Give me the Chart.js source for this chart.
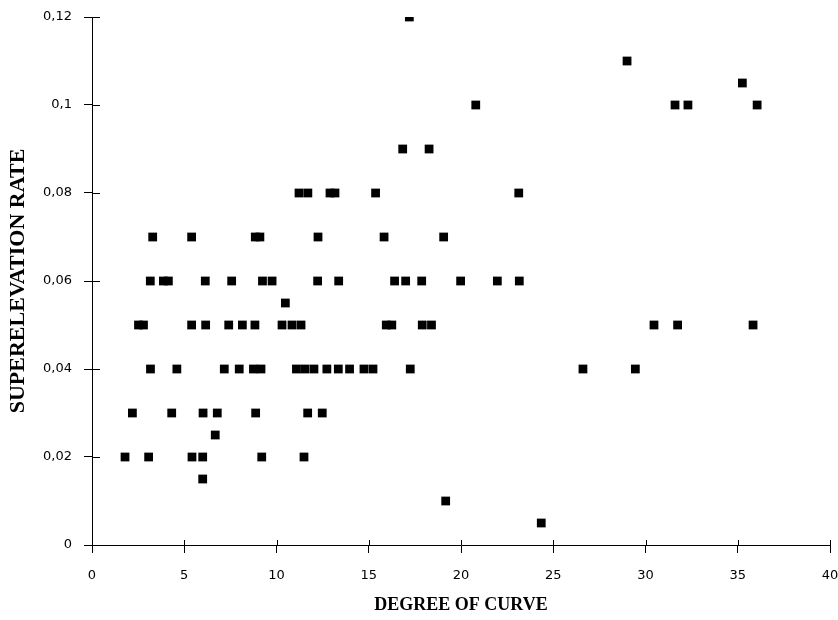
<!DOCTYPE html>
<html>
<head>
<meta charset="utf-8">
<script src="https://cdn.jsdelivr.net/npm/chart.js@4.4.1/dist/chart.umd.min.js"></script>
<style>
  html, body { margin: 0; padding: 0; background: #fff; }
  #wrap { width: 838px; height: 620px; }
</style>
</head>
<body>
<div id="wrap"><canvas id="myCanvas"></canvas></div>
<script>
// degree of curve (x) and superelevation rate (y)
var degreeOfCurve = [
  17.2,
  29.0,
  35.25,
  20.8, 31.6, 32.3, 36.05,
  16.84, 18.27,
  11.22, 11.7, 12.9, 13.17, 15.37, 23.13,
  3.29, 5.4, 8.85, 9.1, 12.25, 15.83, 19.06,
  3.16, 3.87, 4.14, 6.14, 7.57, 9.24, 9.76, 12.23, 13.37, 16.4, 17.0, 17.87, 19.98, 21.97, 23.16,
  10.48,
  2.52, 2.79, 5.4, 6.16, 7.41, 8.15, 8.83, 10.3, 10.84, 11.33, 15.95, 16.25, 17.9, 18.4, 30.46, 31.74, 35.83,
  3.17, 4.6, 7.17, 7.98, 8.75, 9.16, 11.08, 11.54, 12.03, 12.73, 13.35, 13.96, 14.74, 15.23, 17.25, 26.61, 29.45,
  2.19, 4.32, 6.02, 6.79, 8.87, 11.69, 12.48,
  6.68,
  1.79, 3.07, 5.42, 6.0, 9.2, 11.49,
  6.0,
  19.17,
  24.35
];
var superelevationRate = [
  0.12,
  0.11,
  0.105,
  0.1, 0.1, 0.1, 0.1,
  0.09, 0.09,
  0.08, 0.08, 0.08, 0.08, 0.08, 0.08,
  0.07, 0.07, 0.07, 0.07, 0.07, 0.07, 0.07,
  0.06, 0.06, 0.06, 0.06, 0.06, 0.06, 0.06, 0.06, 0.06, 0.06, 0.06, 0.06, 0.06, 0.06, 0.06,
  0.055,
  0.05, 0.05, 0.05, 0.05, 0.05, 0.05, 0.05, 0.05, 0.05, 0.05, 0.05, 0.05, 0.05, 0.05, 0.05, 0.05, 0.05,
  0.04, 0.04, 0.04, 0.04, 0.04, 0.04, 0.04, 0.04, 0.04, 0.04, 0.04, 0.04, 0.04, 0.04, 0.04, 0.04, 0.04,
  0.03, 0.03, 0.03, 0.03, 0.03, 0.03, 0.03,
  0.025,
  0.02, 0.02, 0.02, 0.02, 0.02, 0.02,
  0.015,
  0.01,
  0.005
];
var xTicks = [0, 5, 10, 15, 20, 25, 30, 35, 40];
var yTicks = [0, 0.02, 0.04, 0.06, 0.08, 0.1, 0.12];

var points = [];
for (var i = 0; i < degreeOfCurve.length; i++) {
  points.push({ x: degreeOfCurve[i], y: superelevationRate[i] });
}

function commaLabel(v) {
  var r = Math.round(v * 1000) / 1000;
  return String(r).replace(".", ",");
}

// short tick marks on the inner side of both axes
var innerTicks = {
  id: "innerTicks",
  afterDraw: function (chart) {
    var ctx = chart.ctx;
    var xs = chart.scales.x, ys = chart.scales.y;
    ctx.save();
    ctx.strokeStyle = "#000";
    ctx.lineWidth = 1;
    ctx.beginPath();
    xs.ticks.forEach(function (t, i) {
      var px = Math.round(xs.getPixelForTick(i)) + 0.5;
      ctx.moveTo(px, ys.bottom);
      ctx.lineTo(px, ys.bottom - 5);
    });
    ys.ticks.forEach(function (t, i) {
      var py = Math.round(ys.getPixelForTick(i)) + 0.5;
      ctx.moveTo(xs.left, py);
      ctx.lineTo(xs.left + 8, py);
    });
    ctx.stroke();
    ctx.restore();
  }
};

var myChart = new Chart(document.getElementById("myCanvas"), {
  type: "scatter",
  data: {
    datasets: [{
      data: points,
      pointStyle: "rect",
      pointRadius: 6.2,
      pointHoverRadius: 6.2,
      backgroundColor: "#000",
      borderColor: "#000",
      borderWidth: 0
    }]
  },
  options: {
    responsive: true,
    maintainAspectRatio: false,
    animation: false,
    layout: { padding: { top: 17, right: 8, left: 0, bottom: 0 } },
    plugins: {
      legend: { display: false },
      tooltip: { enabled: false }
    },
    scales: {
      x: {
        type: "linear",
        min: 0,
        max: 40,
        afterBuildTicks: function (scale) {
          scale.ticks = xTicks.map(function (v) { return { value: v }; });
        },
        afterFit: function (scale) {
          scale.height = 75;
          scale.paddingLeft = 0;
          scale.paddingRight = 0;
        },
        grid: { drawOnChartArea: false, color: "#000", tickLength: 8, tickColor: "#000" },
        border: { display: true, color: "#000", width: 1 },
        ticks: {
          color: "#000",
          font: { family: "DejaVu Sans", size: 13 },
          padding: 15,
          maxRotation: 0,
          callback: function (v) { return commaLabel(v); }
        },
        title: {
          display: true,
          text: "DEGREE OF CURVE",
          color: "#000",
          font: { family: "Liberation Serif", size: 18, weight: "bold" },
          padding: { top: 4, bottom: 4 }
        }
      },
      y: {
        type: "linear",
        min: 0,
        max: 0.12,
        afterBuildTicks: function (scale) {
          scale.ticks = yTicks.map(function (v) { return { value: v }; });
        },
        afterFit: function (scale) {
          scale.width = 92;
          scale.paddingTop = 0;
          scale.paddingBottom = 0;
        },
        grid: { drawOnChartArea: false, color: "#000", tickLength: 8, tickColor: "#000" },
        border: { display: true, color: "#000", width: 1 },
        ticks: {
          color: "#000",
          font: { family: "DejaVu Sans", size: 13 },
          padding: 12,
          callback: function (v) { return commaLabel(v); }
        },
        title: {
          display: true,
          text: "SUPERELEVATION RATE",
          color: "#000",
          font: { family: "Liberation Serif", size: 22, weight: "bold" },
          padding: { top: 5, bottom: 2 }
        }
      }
    }
  },
  plugins: [innerTicks]
});
</script>
</body>
</html>
